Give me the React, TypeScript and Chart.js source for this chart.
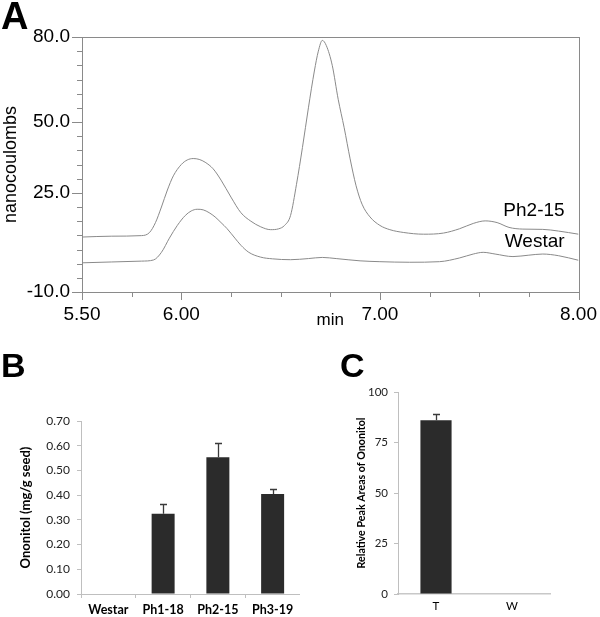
import { useEffect, useRef } from "react";
import { Chart, registerables } from "chart.js";

Chart.register(...registerables);

// ---------- Panel A: chromatogram ----------
const ph215Times = [5.50, 5.65, 5.80, 5.84, 5.87, 5.90, 5.93, 5.96, 6.00, 6.03, 6.06, 6.09, 6.12, 6.16, 6.20, 6.25, 6.30, 6.35, 6.40, 6.45, 6.49, 6.52, 6.55, 6.58, 6.61, 6.64, 6.67, 6.69, 6.71, 6.73, 6.76, 6.79, 6.82, 6.85, 6.88, 6.91, 6.95, 7.00, 7.05, 7.12, 7.22, 7.32, 7.40, 7.47, 7.53, 7.59, 7.65, 7.72, 7.82, 7.90, 8.00];
const ph215Signal = [9.4, 9.7, 9.9, 11, 14.5, 20, 26, 31, 35, 36.6, 37.1, 36.8, 35.8, 33.5, 29.5, 23.5, 18, 15, 13, 12, 12.3, 13.5, 17, 28, 41, 55, 68, 75, 78.8, 77, 70, 58, 48, 37, 27.5, 21, 16.5, 13.5, 12, 11, 10.4, 10.8, 12.3, 14.2, 15.1, 14.5, 12.8, 12.2, 12.1, 11.5, 10.4];
const westarTimes = [5.50, 5.65, 5.80, 5.86, 5.90, 5.94, 5.98, 6.02, 6.05, 6.08, 6.11, 6.14, 6.17, 6.20, 6.23, 6.27, 6.30, 6.34, 6.40, 6.46, 6.55, 6.64, 6.71, 6.78, 6.90, 7.00, 7.15, 7.30, 7.40, 7.47, 7.52, 7.58, 7.67, 7.75, 7.82, 7.90, 8.00];
const westarSignal = [0.3, 0.6, 0.9, 1.3, 4, 9, 13.5, 17, 18.6, 19.2, 19.0, 18.0, 16.5, 14.5, 12.4, 9, 6.5, 4, 2.3, 1.7, 1.4, 1.8, 2.2, 1.8, 1.0, 0.7, 0.5, 0.7, 2.0, 3.4, 4.0, 3.4, 2.5, 3.0, 3.4, 2.8, 1.2];
const seriesNamesA = ["Ph2-15", "Westar"];
const seriesLabelPosA = [[7.93, 18.6], [7.93, 7.6]];
const xTicksA = [5.5, 5.75, 6.0, 6.25, 6.5, 6.75, 7.0, 7.25, 7.5, 7.75, 8.0];
const xTickLabelsA = [5.5, 6.0, 7.0, 8.0];
const yTicksA = [-10, -5, 0, 5, 10, 15, 20, 25, 30, 35, 40, 45, 50, 55, 60, 65, 70, 75, 80];
const yTickLabelsA = [80, 50, 25, -10];

// ---------- Panel B ----------
const bCategories = ["Westar", "Ph1-18", "Ph2-15", "Ph3-19"];
const bValues = [0, 0.325, 0.553, 0.405];
const bErrors = [0, 0.038, 0.057, 0.021];

// ---------- Panel C ----------
const cCategories = ["T", "W"];
const cValues = [86, 0];
const cErrors = [3, 0];

const ARIAL = "'Liberation Sans', Arial, sans-serif";
const CALIBRI = "Lato, 'Open Sans', sans-serif";
const LINE_GRAY = "#8a8a8a";
const AXIS_GRAY = "#bfbfbf";
const BAR_COLOR = "#2b2b2b";

const letterPlugin = (letter: string, x: number, y: number, size: number) => ({
  id: "letter" + letter,
  afterDraw(chart: any) {
    const ctx = chart.ctx;
    ctx.save();
    ctx.fillStyle = "#000";
    ctx.font = `bold ${size}px ${ARIAL}`;
    ctx.textAlign = "left";
    ctx.textBaseline = "alphabetic";
    ctx.fillText(letter, x, y);
    ctx.restore();
  },
});

const chromFrame = {
  id: "chromFrame",
  afterDraw(chart: any) {
    const { ctx, chartArea } = chart;
    const xs = chart.scales.x;
    const ys = chart.scales.y;
    ctx.save();
    ctx.strokeStyle = LINE_GRAY;
    ctx.lineWidth = 1;
    ctx.strokeRect(
      Math.round(chartArea.left) + 0.5,
      Math.round(chartArea.top) + 0.5,
      Math.round(chartArea.right - chartArea.left),
      Math.round(chartArea.bottom - chartArea.top)
    );
    ctx.beginPath();
    yTicksA.forEach((v) => {
      const py = Math.round(ys.getPixelForValue(v)) + 0.5;
      const len = yTickLabelsA.includes(v) ? 10 : 5;
      ctx.moveTo(chartArea.left - len, py);
      ctx.lineTo(chartArea.left, py);
    });
    xTicksA.forEach((v) => {
      const px = Math.round(xs.getPixelForValue(v)) + 0.5;
      const len = xTickLabelsA.includes(v) ? 8 : 5;
      ctx.moveTo(px, chartArea.bottom);
      ctx.lineTo(px, chartArea.bottom + len);
    });
    ctx.stroke();
    // series names
    ctx.fillStyle = "#000";
    ctx.font = `19px ${ARIAL}`;
    ctx.textAlign = "right";
    ctx.textBaseline = "middle";
    seriesNamesA.forEach((name, i) => {
      const [tx, ty] = seriesLabelPosA[i];
      ctx.fillText(name, xs.getPixelForValue(tx), ys.getPixelForValue(ty));
    });
    // axis title "min"
    ctx.font = `17px ${ARIAL}`;
    ctx.textAlign = "center";
    ctx.fillText("min", (chartArea.left + chartArea.right) / 2, chartArea.bottom + 28);
    ctx.restore();
  },
};

const makeErrorPlugin = (values: number[], errors: number[]) => ({
  id: "errorBars",
  afterDatasetsDraw(chart: any) {
    const { ctx } = chart;
    const meta = chart.getDatasetMeta(0);
    const ys = chart.scales.y;
    ctx.save();
    ctx.strokeStyle = "#3a3a3a";
    ctx.lineWidth = 1.3;
    values.forEach((v, i) => {
      const e = errors[i];
      if (!e) return;
      const x = Math.round(meta.data[i].x) + 0.5;
      const yb = ys.getPixelForValue(v);
      const yt = Math.round(ys.getPixelForValue(v + e)) + 0.5;
      ctx.beginPath();
      ctx.moveTo(x, yb);
      ctx.lineTo(x, yt);
      ctx.moveTo(x - 3.5, yt);
      ctx.lineTo(x + 3.5, yt);
      ctx.stroke();
    });
    ctx.restore();
  },
});

export default function App() {
  const refA = useRef<HTMLCanvasElement>(null);
  const refB = useRef<HTMLCanvasElement>(null);
  const refC = useRef<HTMLCanvasElement>(null);

  useEffect(() => {
    const chartA = new Chart(refA.current!, {
      type: "line",
      data: {
        datasets: [
          {
            label: seriesNamesA[0],
            data: ph215Times.map((t, i) => ({ x: t, y: ph215Signal[i] })),
            borderColor: LINE_GRAY,
            borderWidth: 1,
            pointRadius: 0,
            fill: false,
            cubicInterpolationMode: "monotone",
          },
          {
            label: seriesNamesA[1],
            data: westarTimes.map((t, i) => ({ x: t, y: westarSignal[i] })),
            borderColor: LINE_GRAY,
            borderWidth: 1,
            pointRadius: 0,
            fill: false,
            cubicInterpolationMode: "monotone",
          },
        ],
      },
      options: {
        responsive: false,
        animation: false,
        layout: { padding: { left: 0, right: 21, top: 37, bottom: 0 } },
        plugins: { legend: { display: false }, tooltip: { enabled: false } },
        scales: {
          x: {
            type: "linear",
            min: 5.5,
            max: 8,
            afterBuildTicks: (s: any) => {
              s.ticks = xTicksA.map((v) => ({ value: v }));
            },
            afterFit: (s: any) => {
              s.height = 38;
            },
            ticks: {
              autoSkip: false,
              maxRotation: 0,
              padding: 3,
              color: "#000",
              font: { family: ARIAL, size: 19 },
              callback: (v: any) => (xTickLabelsA.includes(v) ? Number(v).toFixed(2) : ""),
            },
            grid: { display: true, drawOnChartArea: false, tickLength: 8, color: "transparent" },
            border: { display: false },
          },
          y: {
            type: "linear",
            min: -10,
            max: 80,
            afterBuildTicks: (s: any) => {
              s.ticks = yTicksA.map((v) => ({ value: v }));
            },
            afterFit: (s: any) => {
              s.width = 82;
            },
            ticks: {
              autoSkip: false,
              padding: 2,
              color: "#000",
              font: { family: ARIAL, size: 19 },
              callback: (v: any) => (yTickLabelsA.includes(v) ? Number(v).toFixed(1) : ""),
            },
            grid: { display: true, drawOnChartArea: false, tickLength: 10, color: "transparent" },
            border: { display: false },
            title: {
              display: true,
              text: "nanocoulombs",
              color: "#000",
              font: { family: ARIAL, size: 18 },
              padding: { top: 0, bottom: 0 },
            },
          },
        },
      },
      plugins: [chromFrame, letterPlugin("A", 1, 29, 38)],
    } as any);

    const chartB = new Chart(refB.current!, {
      type: "bar",
      data: {
        labels: bCategories,
        datasets: [
          {
            data: bValues,
            backgroundColor: BAR_COLOR,
            barPercentage: 0.42,
            categoryPercentage: 1,
          },
        ],
      },
      options: {
        responsive: false,
        animation: false,
        layout: { padding: { left: 0, right: 0, top: 86, bottom: 0 } },
        plugins: { legend: { display: false }, tooltip: { enabled: false } },
        scales: {
          x: {
            afterFit: (s: any) => {
              s.height = 23;
            },
            ticks: {
              color: "#000",
              padding: 4,
              font: { family: CALIBRI, size: 12.5, weight: "bold" },
            },
            grid: { display: true, drawOnChartArea: false, tickLength: 4, color: AXIS_GRAY, offset: true },
            border: { color: AXIS_GRAY },
          },
          y: {
            min: 0,
            max: 0.7,
            afterFit: (s: any) => {
              s.width = 81;
            },
            ticks: {
              stepSize: 0.1,
              color: "#222",
              padding: 7,
              font: { family: CALIBRI, size: 12 },
              callback: (v: any) => Number(v).toFixed(2),
            },
            grid: { display: true, drawOnChartArea: false, tickLength: 4, color: AXIS_GRAY },
            border: { color: AXIS_GRAY },
            title: {
              display: true,
              text: "Ononitol (mg/g seed)",
              color: "#000",
              font: { family: CALIBRI, size: 13, weight: "bold" },
              padding: { top: 18, bottom: 0 },
            },
          },
        },
      },
      plugins: [makeErrorPlugin(bValues, bErrors), letterPlugin("B", 1, 42, 34)],
    } as any);

    const chartC = new Chart(refC.current!, {
      type: "bar",
      data: {
        labels: cCategories,
        datasets: [
          {
            data: cValues,
            backgroundColor: BAR_COLOR,
            barPercentage: 0.41,
            categoryPercentage: 1,
          },
        ],
      },
      options: {
        responsive: false,
        animation: false,
        layout: { padding: { left: 0, right: 50, top: 57, bottom: 0 } },
        plugins: { legend: { display: false }, tooltip: { enabled: false } },
        scales: {
          x: {
            afterFit: (s: any) => {
              s.height = 23;
            },
            ticks: {
              color: "#000",
              padding: 5,
              font: { family: CALIBRI, size: 11.5 },
            },
            grid: { display: false, drawTicks: false },
            border: { color: "#c8c8c8", width: 1.5 },
          },
          y: {
            min: 0,
            max: 100,
            afterFit: (s: any) => {
              s.width = 98;
            },
            ticks: {
              stepSize: 25,
              color: "#222",
              padding: 6,
              font: { family: CALIBRI, size: 11.5 },
            },
            grid: { display: true, drawOnChartArea: false, tickLength: 4, color: AXIS_GRAY },
            border: { color: AXIS_GRAY },
            title: {
              display: true,
              text: "Relative Peak Areas of Ononitol",
              color: "#000",
              font: { family: CALIBRI, size: 10.7, weight: "bold" },
              padding: { top: 55, bottom: 0 },
            },
          },
        },
      },
      plugins: [makeErrorPlugin(cValues, cErrors), letterPlugin("C", 40, 42, 34)],
    } as any);

    return () => {
      chartA.destroy();
      chartB.destroy();
      chartC.destroy();
    };
  }, []);

  const canvasStyle = (left: number, top: number): any => ({
    position: "absolute",
    left,
    top,
    display: "block",
  });

  return (
    <div style={{ position: "absolute", left: 0, top: 0, width: 600, height: 617, background: "#fff", overflow: "hidden" }}>
      <canvas ref={refA} width={600} height={330} style={canvasStyle(0, 0)} />
      <canvas ref={refB} width={300} height={282} style={canvasStyle(0, 335)} />
      <canvas ref={refC} width={300} height={282} style={canvasStyle(300, 335)} />
    </div>
  );
}
